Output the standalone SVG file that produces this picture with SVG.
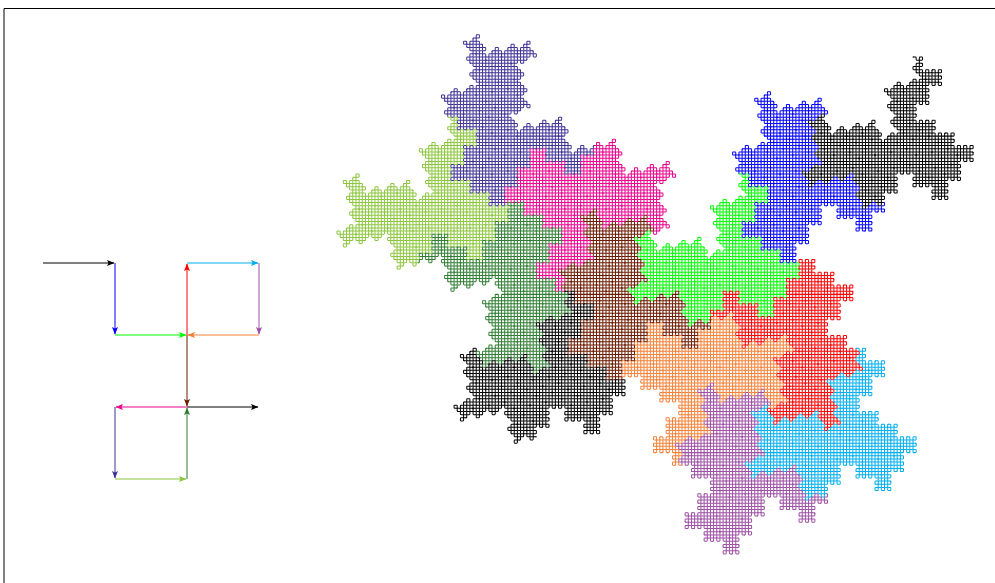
<svg xmlns="http://www.w3.org/2000/svg" width="995" height="583" viewBox="0 0 995 583">
<style>
.frame{fill:none;stroke:#000;stroke-width:1}
#arrows path{fill:none;stroke-width:1;marker-end:url(#head)}
#curve{fill:none;stroke-width:.316;stroke-linecap:round}
</style>
<defs>
<marker id="head" viewBox="0 0 7.500 6" refX="7" refY="3" markerWidth="7.500" markerHeight="6" markerUnits="userSpaceOnUse" orient="auto">
<path d="M7.500 3L0 0L1.500 3L0 6Z" fill="context-stroke" stroke="none"/>
</marker>
<path id="a" d="M.2 0H.8Q1 0 1 .2V.8Q1 1 1.2 1H1.8Q2 1 2 .8V.2Q2 0 2.2 0H2.8Q3 0 3 .2V.8Q3 1 2.8 1H2.2Q2 1 2 1.2V1.8Q2 2 1.8 2H1.2Q1 2 1 2.2V2.8Q1 3 1.2 3H1.8Q2 3 2 2.8V2.2Q2 2 2.2 2H2.8"/>
<g id="b">
<use href="#a"/>
<use href="#a" transform="translate(3 2) rotate(90)"/>
<use href="#a" transform="translate(1 5)"/>
<use href="#a" transform="translate(4 7) rotate(270)"/>
<use href="#a" transform="translate(6 4)"/>
<use href="#a" transform="translate(9 6) rotate(90)"/>
<use href="#a" transform="translate(7 9) rotate(180)"/>
<use href="#a" transform="translate(4 7) rotate(90)"/>
<use href="#a" transform="translate(2 10) rotate(180)"/>
<use href="#a" transform="translate(-1 8) rotate(90)"/>
<use href="#a" transform="translate(-3 11)"/>
<use href="#a" transform="translate(0 13) rotate(270)"/>
<use href="#a" transform="translate(2 10)"/>
<path d="M3 2m-.2 0q.2 0 .2 .2M1 5m0-.2q0 .2 .2 .2M4 7m-.2 0q.2 0 .2-.2M6 4m0 .2q0-.2 .2-.2M9 6m-.2 0q.2 0 .2 .2M7 9m0-.2q0 .2-.2 .2M4 7m.2 0q-.2 0-.2 .2M2 10m0-.2q0 .2-.2 .2M-1 8m.2 0q-.2 0-.2 .2M-3 11m0-.2q0 .2 .2 .2M0 13m-.2 0q.2 0 .2-.2M2 10m0 .2q0-.2 .2-.2"/>
</g>
<g id="c">
<use href="#b"/>
<use href="#b" transform="translate(5 12) rotate(90)"/>
<use href="#b" transform="translate(-7 17)"/>
<use href="#b" transform="translate(-2 29) rotate(270)"/>
<use href="#b" transform="translate(10 24)"/>
<use href="#b" transform="translate(15 36) rotate(90)"/>
<use href="#b" transform="translate(3 41) rotate(180)"/>
<use href="#b" transform="translate(-2 29) rotate(90)"/>
<use href="#b" transform="translate(-14 34) rotate(180)"/>
<use href="#b" transform="translate(-19 22) rotate(90)"/>
<use href="#b" transform="translate(-31 27)"/>
<use href="#b" transform="translate(-26 39) rotate(270)"/>
<use href="#b" transform="translate(-14 34)"/>
<path d="M5 12m-.2 0q.2 0 .2 .2M-7 17m0-.2q0 .2 .2 .2M-2 29m-.2 0q.2 0 .2-.2M10 24m0 .2q0-.2 .2-.2M15 36m-.2 0q.2 0 .2 .2M3 41m0-.2q0 .2-.2 .2M-2 29m.2 0q-.2 0-.2 .2M-14 34m0-.2q0 .2-.2 .2M-19 22m.2 0q-.2 0-.2 .2M-31 27m0-.2q0 .2 .2 .2M-26 39m-.2 0q.2 0 .2-.2M-14 34m0 .2q0-.2 .2-.2"/>
</g>
</defs>
<path class="frame" d="M4 583V8.500H995"/>
<g id="arrows">
<path stroke="#000" d="M43 263H114"/>
<path stroke="#0000ff" d="M115 263V334"/>
<path stroke="#00ff00" d="M115 335H186"/>
<path stroke="#ff0000" d="M187 335V264"/>
<path stroke="#00aeef" d="M187 263H258"/>
<path stroke="#9c4fa3" d="M259 263V334"/>
<path stroke="#f58137" d="M259 335H188"/>
<path stroke="#6b1a00" d="M187 335V406"/>
<path stroke="#ec008c" d="M187 407H116"/>
<path stroke="#3f3295" d="M115 407V478"/>
<path stroke="#8cc63e" d="M115 479H186"/>
<path stroke="#2f7d32" d="M187 479V408"/>
<path stroke="#000" d="M187 407H258"/>
</g>
<g id="curve" transform="translate(913 57) scale(3.165)">
<g id="piece-1" stroke="#000"><path d="M0 0H.2M-119.200 120H-119"/><use href="#c"/></g>
<g id="piece-2" stroke="#0000ff"><path d="M-9 46m-.2 0q.2 0 .2 .2"/><use href="#c" transform="translate(-9 46) rotate(90)"/></g>
<g id="piece-3" stroke="#00ff00"><path d="M-55 37m0-.2q0 .2 .2 .2"/><use href="#c" transform="translate(-55 37)"/></g>
<g id="piece-4" stroke="#ff0000"><path d="M-64 83m-.2 0q.2 0 .2-.2"/><use href="#c" transform="translate(-64 83) rotate(270)"/></g>
<g id="piece-5" stroke="#00aeef"><path d="M-18 92m0 .2q0-.2 .2-.2"/><use href="#c" transform="translate(-18 92)"/></g>
<g id="piece-6" stroke="#9c4fa3"><path d="M-27 138m-.2 0q.2 0 .2 .2"/><use href="#c" transform="translate(-27 138) rotate(90)"/></g>
<g id="piece-7" stroke="#f58137"><path d="M-73 129m0-.2q0 .2-.2 .2"/><use href="#c" transform="translate(-73 129) rotate(180)"/></g>
<g id="piece-8" stroke="#6b1a00"><path d="M-64 83m.2 0q-.2 0-.2 .2"/><use href="#c" transform="translate(-64 83) rotate(90)"/></g>
<g id="piece-9" stroke="#ec008c"><path d="M-110 74m0-.2q0 .2-.2 .2"/><use href="#c" transform="translate(-110 74) rotate(180)"/></g>
<g id="piece-10" stroke="#3f3295"><path d="M-101 28m.2 0q-.2 0-.2 .2"/><use href="#c" transform="translate(-101 28) rotate(90)"/></g>
<g id="piece-11" stroke="#8cc63e"><path d="M-147 19m0-.2q0 .2 .2 .2"/><use href="#c" transform="translate(-147 19)"/></g>
<g id="piece-12" stroke="#2f7d32"><path d="M-156 65m-.2 0q.2 0 .2-.2"/><use href="#c" transform="translate(-156 65) rotate(270)"/></g>
<g id="piece-13" stroke="#000"><path d="M-110 74m0 .2q0-.2 .2-.2"/><use href="#c" transform="translate(-110 74)"/></g>
</g>
</svg>
